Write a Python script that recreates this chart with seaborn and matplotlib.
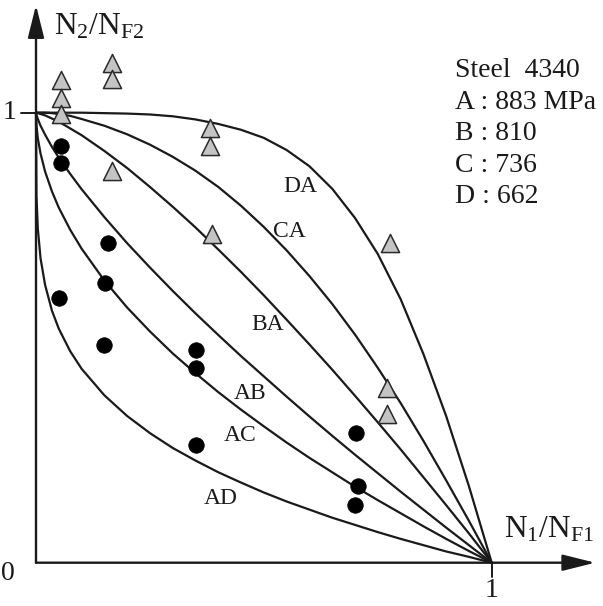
import pandas as pd
import matplotlib
matplotlib.use("Agg")
import matplotlib.pyplot as plt
import seaborn as sns

### Damage curves for two-level loading, steel 4340
# shared N1/NF1 grid for the curves
x_grid = [0, 0.001, 0.004, 0.01, 0.02, 0.035, 0.05, 0.075, 0.1, 0.15, 0.2, 0.25, 0.3, 0.35,
          0.4, 0.45, 0.5, 0.55, 0.6, 0.65, 0.7, 0.75, 0.8, 0.85, 0.9, 0.95, 1.0]

# N2/NF2
da_y = [1, 1, 1, 1, 1, 1, 1, 1, 1.000, 0.999, 0.998, 0.996, 0.992, 0.985, 0.975, 0.962,
        0.944, 0.917, 0.881, 0.831, 0.766, 0.686, 0.586, 0.464, 0.326, 0.170, 0]
ca_y = [1, 1, 1, 1, 1.000, 0.999, 0.997, 0.993, 0.986, 0.971, 0.952, 0.929, 0.902, 0.871,
        0.835, 0.793, 0.746, 0.694, 0.637, 0.575, 0.507, 0.433, 0.355, 0.271, 0.183, 0.093, 0]
ba_y = [1, 1.000, 0.999, 0.997, 0.994, 0.987, 0.980, 0.965, 0.950, 0.915, 0.877, 0.835, 0.791,
        0.745, 0.696, 0.646, 0.594, 0.540, 0.485, 0.429, 0.371, 0.312, 0.252, 0.190, 0.128, 0.065, 0]
ab_y = [1, 0.995, 0.986, 0.971, 0.951, 0.924, 0.900, 0.864, 0.830, 0.768, 0.710, 0.656, 0.604,
        0.554, 0.506, 0.459, 0.414, 0.369, 0.325, 0.282, 0.240, 0.199, 0.158, 0.118, 0.078, 0.039, 0]
ac_y = [1, 0.972, 0.943, 0.909, 0.869, 0.825, 0.789, 0.740, 0.698, 0.627, 0.567, 0.514, 0.465,
        0.421, 0.379, 0.340, 0.303, 0.267, 0.233, 0.201, 0.169, 0.139, 0.110, 0.081, 0.053, 0.026, 0]
ad_y = [1, 0.816, 0.742, 0.676, 0.617, 0.560, 0.520, 0.470, 0.431, 0.372, 0.326, 0.288, 0.255,
        0.227, 0.201, 0.178, 0.156, 0.136, 0.118, 0.100, 0.084, 0.068, 0.053, 0.039, 0.025, 0.013, 0]

curve_names = ["DA", "CA", "BA", "AB", "AC", "AD"]
curve_values = [da_y, ca_y, ba_y, ab_y, ac_y, ad_y]

# test points: triangles (high-low) and circles (low-high)
tri_x = [0.055, 0.055, 0.055, 0.167, 0.167, 0.382, 0.382, 0.167, 0.387, 0.777, 0.770, 0.770]
tri_y = [1.073, 1.033, 0.997, 1.110, 1.075, 0.965, 0.926, 0.870, 0.730, 0.710, 0.388, 0.330]
dot_x = [0.055, 0.055, 0.157, 0.151, 0.051, 0.150, 0.351, 0.351, 0.351, 0.702, 0.706, 0.700]
dot_y = [0.926, 0.888, 0.710, 0.622, 0.588, 0.484, 0.473, 0.432, 0.262, 0.288, 0.171, 0.128]

legend_lines = ["Steel  4340", "A : 883 MPa", "B : 810", "C : 736", "D : 662"]

# long-form table for seaborn
df = pd.concat([pd.DataFrame({"x": x_grid, "y": v, "curve": n})
                for n, v in zip(curve_names, curve_values)], ignore_index=True)

sns.set_theme(style="white")
plt.rcParams["font.family"] = ["Liberation Serif", "DejaVu Serif"]
plt.rcParams["mathtext.fontset"] = "custom"
plt.rcParams["mathtext.rm"] = "Liberation Serif"
plt.rcParams["mathtext.it"] = "Liberation Serif:italic"

fig = plt.figure(figsize=(6.03, 6.06), dpi=100)
ax = fig.add_axes([0, 0, 1, 1])

ink = "#1a1a1a"

# axes with arrow heads
arrow = dict(arrowstyle="-|>,head_length=2.0,head_width=0.5", mutation_scale=10,
             color=ink, lw=1.7, shrinkA=0, shrinkB=0)
ax.annotate("", xy=(0, 1.239), xytext=(0, 0), arrowprops=arrow)
ax.annotate("", xy=(1.227, 0), xytext=(0, 0), arrowprops=arrow)
ax.plot([-0.033, 0], [1, 1], color=ink, lw=1.4)
ax.plot([1, 1], [0, -0.032], color=ink, lw=1.4)

ax.text(-0.057, 1, "1", fontsize=20, ha="center", va="center", color=ink)
ax.text(-0.062, -0.023, "0", fontsize=20, ha="center", va="center", color=ink)
ax.text(1.0, -0.061, "1", fontsize=20, ha="center", va="center", color=ink)

ax.text(0.040, 1.173, r"$\mathrm{N_2/N_{F2}}$", fontsize=22.5, ha="left", va="baseline", color=ink)
ax.text(1.027, 0.055, r"$\mathrm{N_1/N_{F1}}$", fontsize=22.5, ha="left", va="baseline", color=ink)

# damage curves
sns.lineplot(data=df, x="x", y="y", units="curve", estimator=None, sort=False,
             color=ink, linewidth=1.6, ax=ax, legend=False)

# curve labels
label_pos = {"DA": (0.542, 0.823), "CA": (0.519, 0.724), "BA": (0.472, 0.516),
             "AB": (0.435, 0.364), "AC": (0.413, 0.270), "AD": (0.369, 0.130)}
for name, (lx, ly) in label_pos.items():
    ax.text(lx, ly, name, fontsize=17, ha="left", va="baseline", color=ink)

# experimental points
sns.scatterplot(x=tri_x, y=tri_y, marker="^", s=170, color="#c4c4c4",
                edgecolor="#2a2a2a", linewidth=1.1, ax=ax, zorder=4)
sns.scatterplot(x=dot_x, y=dot_y, marker="o", s=125, color="black",
                edgecolor="black", linewidth=0.5, ax=ax, zorder=4)

# material / stress levels
for i, line in enumerate(legend_lines):
    ax.text(0.9195, 1.0793 - 0.07 * i, line, fontsize=20, ha="left", va="baseline", color=ink)

ax.set_xlim(-0.079, 1.2442)
ax.set_ylim(-0.0962, 1.2504)
ax.axis("off")

plt.savefig("out.png", dpi=100)
